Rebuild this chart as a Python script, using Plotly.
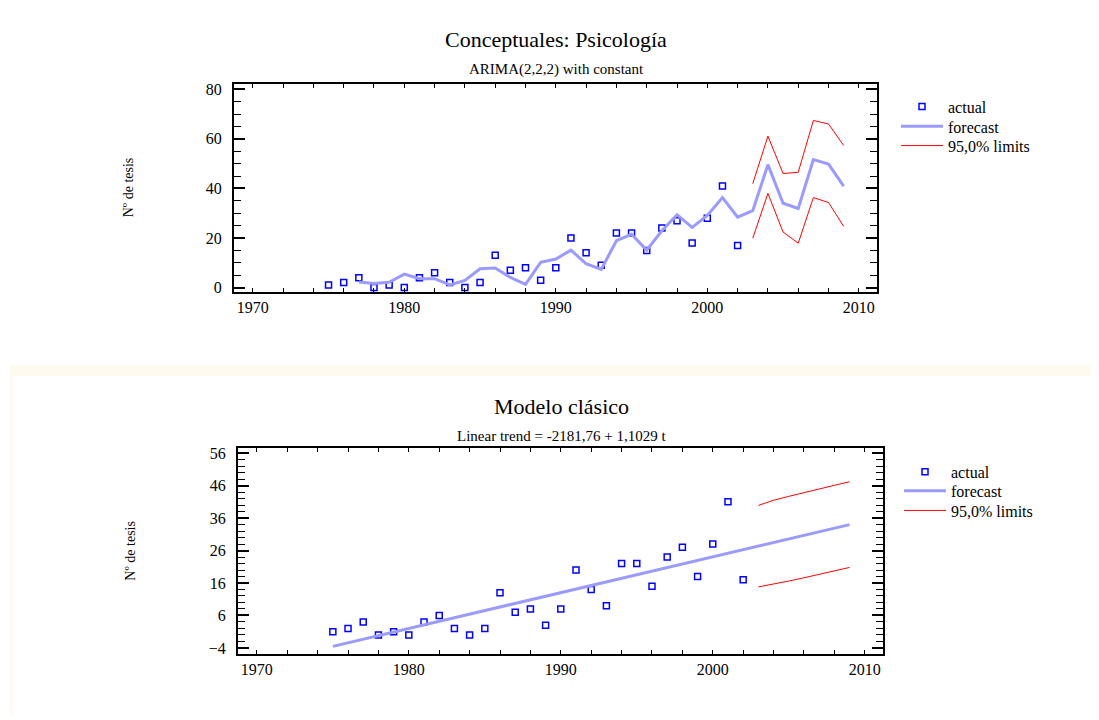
import plotly.graph_objects as go

# ---------------- data ----------------
years_actual = list(range(1975, 2003))
actual = [1, 2, 4, 0, 1, 0, 4, 6, 2, 0, 2, 13, 7, 8, 3, 8, 20, 14, 9, 22, 22, 15, 24, 27, 18, 28, 41, 17]

# ARIMA(2,2,2) forecast (1977-2009)
years_arima = list(range(1977, 2010))
arima_forecast = [2.2, 1.6, 2.1, 5.4, 3.6, 3.6, 1.1, 2.9, 7.6, 7.9, 4.1, 1.3, 10.2, 11.5,
                  15.1, 9.6, 7.3, 18.9, 21.5, 15.1, 22.9, 29.4, 24.3, 29.1, 36.3, 28.4,
                  31.0, 49.6, 34.0, 31.9, 51.6, 49.8, 40.9]
years_limits = list(range(2003, 2010))
arima_upper = [41.9, 61.1, 46.0, 46.5, 67.4, 66.0, 57.3]
arima_lower = [19.9, 38.0, 22.4, 17.9, 36.3, 34.3, 24.7]

# Linear trend forecast (1975-2009)
years_trend = list(range(1975, 2010))
trend_forecast = [-3.53, -2.43, -1.32, -0.22, 0.89, 1.99, 3.09, 4.20, 5.30, 6.40, 7.50, 8.61,
                  9.71, 10.81, 11.92, 13.02, 14.12, 15.23, 16.33, 17.43, 18.53, 19.64, 20.74,
                  21.84, 22.95, 24.05, 25.15, 26.26, 27.36, 28.46, 29.57, 30.67, 31.77, 32.87,
                  33.98]
trend_upper = [39.9, 41.5, 42.7, 43.9, 45.0, 46.1, 47.2]
trend_lower = [14.8, 15.6, 16.6, 17.6, 18.6, 19.6, 20.8]

titles = ["Conceptuales: Psicología", "Modelo clásico"]
subtitles = ["ARIMA(2,2,2) with constant", "Linear trend = -2181,76 + 1,1029 t"]
ytitle = "Nº de tesis"
legend_names = ["actual", "forecast", "95,0% limits"]

# ---------------- style ----------------
FONT = "Liberation Serif"
BLUE = "#0000ff"
FC = "#9a9aff"
RED = "#ff0000"
OFF = 8                      # page body margin
W, H = 1099 - OFF, 720 - OFF

def px(x):                   # screen x -> paper
    return (x - OFF) / W

def py(y):                   # screen y -> paper
    return (H - (y - OFF)) / H

fig = go.Figure()

def add_panel(xa, ya, legs, ys_f, f, ys_l, up, lo):
    fig.add_trace(go.Scatter(x=years_actual, y=actual, mode="markers", name=legend_names[0],
                             marker=dict(symbol="square-open", size=6, color=BLUE,
                                         line=dict(width=1.5, color=BLUE)),
                             xaxis=xa, yaxis=ya, legend=legs[0]))
    fig.add_trace(go.Scatter(x=ys_f, y=f, mode="lines", name=legend_names[1],
                             line=dict(color=FC, width=3),
                             xaxis=xa, yaxis=ya, legend=legs[1]))
    fig.add_trace(go.Scatter(x=ys_l, y=up, mode="lines", name=legend_names[2],
                             line=dict(color=RED, width=1),
                             xaxis=xa, yaxis=ya, legend=legs[2]))
    fig.add_trace(go.Scatter(x=ys_l, y=lo, mode="lines", name=legend_names[2],
                             line=dict(color=RED, width=1), showlegend=False,
                             xaxis=xa, yaxis=ya, legend=legs[2]))

add_panel("x", "y", ["legend", "legend2", "legend3"], years_arima, arima_forecast,
          years_limits, arima_upper, arima_lower)
add_panel("x2", "y2", ["legend4", "legend5", "legend6"], years_trend, trend_forecast,
          years_limits, trend_upper, trend_lower)

def xax(domain, anchor):
    return dict(domain=domain, anchor=anchor, range=[1968.76, 2011.2],
                tick0=1970, dtick=10, ticks="inside", ticklen=4, tickwidth=1,
                tickcolor="black", minor=dict(dtick=2, ticks="inside", ticklen=4,
                                              tickcolor="black", tickwidth=1),
                showline=True, linecolor="black", linewidth=2, mirror="ticks",
                showgrid=False, zeroline=False, ticklabelstandoff=0,
                tickfont=dict(family=FONT, size=16, color="black"))

def yax(domain, anchor, rng, t0, dt, mdt):
    return dict(domain=domain, anchor=anchor, range=rng, tick0=t0, dtick=dt,
                ticks="inside", ticklen=11, tickwidth=1.5, tickcolor="black",
                minor=dict(dtick=mdt, ticks="inside", ticklen=7, tickcolor="black", tickwidth=1),
                showline=True, linecolor="black", linewidth=2, mirror="ticks",
                showgrid=False, zeroline=False, ticklabelstandoff=7,
                tickfont=dict(family=FONT, size=16, color="black"))

def leg(x, y):
    return dict(x=px(x), y=py(y), xanchor="left", yanchor="middle",
                font=dict(family=FONT, size=16, color="black"), bgcolor="rgba(0,0,0,0)",
                itemwidth=42, borderwidth=0)

fig.update_layout(
    width=W, height=H, margin=dict(l=0, r=0, t=0, b=0),
    paper_bgcolor="white", plot_bgcolor="white",
    xaxis=xax([px(234), px(877)], "y"),
    yaxis=yax([py(292), py(82)], "x", [-1.87, 82.0], 0, 20, 5),
    xaxis2=xax([px(238), px(883)], "y2"),
    yaxis2=yax([py(657), py(449)], "x2", [-5.76, 57.7], -4, 10, 2),
    legend=leg(896, 104.5), legend2=leg(896, 124.5), legend3=leg(896, 144),
    legend4=leg(899, 473.5), legend5=leg(899, 492.5), legend6=leg(899, 512.5),
    showlegend=True,
)

# cream frame around the lower panel
fig.add_shape(type="rect", xref="paper", yref="paper", x0=px(10), x1=1.0,
              y0=py(377), y1=py(366), fillcolor="#fffaf0", line_width=0, layer="below")
fig.add_shape(type="rect", xref="paper", yref="paper", x0=px(10), x1=px(12.7),
              y0=0, y1=py(377), fillcolor="#fffaf0", line_width=0, layer="below")

ann = []
for t, s, cx, ty, sy in [(titles[0], subtitles[0], 556, 37, 67),
                         (titles[1], subtitles[1], 561, 407, 437)]:
    ann.append(dict(text=t, x=px(cx), y=py(ty), xref="paper", yref="paper",
                    showarrow=False, xanchor="center", yanchor="middle",
                    font=dict(family=FONT, size=22, color="black")))
    ann.append(dict(text=s, x=px(cx), y=py(sy), xref="paper", yref="paper",
                    showarrow=False, xanchor="center", yanchor="middle",
                    font=dict(family=FONT, size=15, color="black")))
for cx, cy in [(128, 186), (131, 553)]:
    ann.append(dict(text=ytitle, x=px(cx), y=py(cy), xref="paper", yref="paper",
                    showarrow=False, textangle=-90, xanchor="center", yanchor="middle",
                    font=dict(family=FONT, size=14, color="black")))
fig.update_layout(annotations=ann)

fig.write_html("out.html")
